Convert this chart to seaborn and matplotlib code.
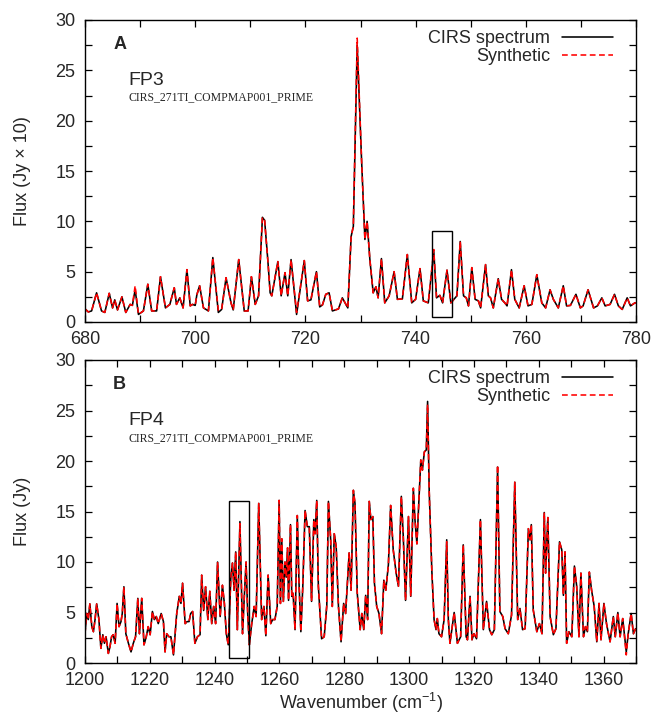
import numpy as np
import pandas as pd
import matplotlib
matplotlib.use("Agg")
import matplotlib.pyplot as plt
import seaborn as sns
from matplotlib.ticker import MultipleLocator
from matplotlib.patches import Rectangle

# ---------------- data ----------------
top_wn = [680.0, 680.6, 681.2, 682.1, 683.0, 683.6, 684.4, 685.0, 685.4, 685.9,
          686.7, 687.4, 688.2, 688.6, 689.1, 689.7, 690.6, 691.4, 692.1, 693.0,
          693.7, 694.6, 695.4, 696.2, 696.6, 697.2, 697.8, 698.5, 699.1, 699.5,
          700.0, 700.3, 700.8, 701.5, 702.4, 703.2, 704.2, 704.8, 705.6, 706.5,
          706.9, 707.9, 708.9, 709.6, 710.2, 710.9, 711.5, 712.2, 712.6, 713.2,
          713.6, 713.9, 715.0, 715.6, 716.3, 716.8, 717.4, 718.4, 719.8, 720.4,
          721.0, 722.0, 722.6, 723.1, 723.7, 724.3, 724.9, 726.0, 726.7, 727.7,
          728.3, 728.7, 729.4, 730.2, 730.8, 731.2, 731.7, 732.3, 732.8, 733.2,
          733.8, 734.4, 735.2, 736.1, 736.7, 737.6, 738.5, 739.3, 740.0, 740.8,
          741.4, 742.3, 743.3, 743.8, 744.4, 744.9, 745.7, 746.4, 747.5, 748.1,
          748.7, 749.2, 749.6, 750.2, 750.8, 751.4, 751.8, 752.7, 753.2, 753.6,
          754.1, 755.0, 755.6, 756.2, 756.6, 757.4, 758.0, 758.8, 759.7, 760.4,
          761.1, 762.0, 762.9, 763.6, 764.4, 765.0, 765.9, 766.8, 767.4, 768.1,
          769.1, 769.9, 770.4, 771.3, 772.3, 773.0, 773.8, 774.4, 775.3, 776.1,
          776.8, 777.5, 778.4, 779.0, 779.8, 780.0]
top_obs = [1.3, 1.0, 1.1, 2.9, 1.1, 0.95, 2.85, 1.4, 2.2, 1.2,
           2.5, 0.95, 1.75, 1.65, 3.2, 0.75, 1.1, 3.75, 1.1, 1.1,
           4.5, 1.4, 1.75, 3.4, 1.75, 2.4, 1.4, 5.2, 1.6, 1.75,
           1.65, 2.7, 3.6, 1.4, 1.1, 6.4, 0.95, 1.25, 4.4, 1.9,
           1.2, 6.2, 1.1, 1.1, 4.5, 1.75, 2.6, 10.4, 10.1, 6.0,
           2.9, 2.6, 6.0, 2.6, 4.9, 2.6, 6.2, 0.75, 6.1, 2.1,
           2.2, 5.0, 1.5, 1.7, 2.75, 2.9, 1.1, 1.3, 2.4, 1.4,
           8.5, 9.5, 27.5, 16.0, 8.2, 10.0, 6.2, 2.9, 3.5, 2.4,
           6.3, 1.9, 2.6, 5.0, 2.25, 2.3, 6.7, 1.9, 2.25, 5.3,
           2.1, 1.9, 7.0, 2.4, 2.65, 1.9, 5.15, 1.9, 2.6, 8.0,
           2.6, 2.4, 1.6, 5.4, 2.25, 2.1, 1.4, 5.7, 2.6, 2.4,
           1.4, 4.3, 2.25, 1.9, 1.6, 5.2, 2.25, 1.4, 3.6, 1.6,
           1.75, 4.7, 1.9, 1.4, 3.2, 2.25, 1.4, 3.6, 1.6, 1.65,
           2.75, 1.4, 1.6, 3.2, 1.4, 1.6, 2.4, 1.6, 1.75, 2.75,
           1.6, 1.25, 2.4, 1.6, 1.9, 1.9]
# synthetic spectrum: equal to the observed one except at these wavenumbers
top_syn_changes = {689.1: 3.6, 729.4: 28.2, 704.2: 1.15, 718.4: 0.95, 743.3: 7.2}

bot_wn = [1200.0, 1200.5, 1201.0, 1201.5, 1202.1, 1202.6, 1203.1, 1203.6, 1204.3, 1204.9,
          1205.5, 1206.0, 1206.5, 1207.2, 1207.7, 1208.2, 1208.7, 1209.3, 1209.9, 1210.5,
          1211.1, 1211.5, 1212.0, 1212.6, 1213.4, 1214.2, 1214.9, 1215.6, 1216.3, 1216.8,
          1217.5, 1218.2, 1218.9, 1219.5, 1220.1, 1220.8, 1221.4, 1222.0, 1222.6, 1223.5,
          1224.2, 1224.7, 1225.2, 1225.9, 1226.5, 1227.3, 1228.3, 1229.1, 1229.6, 1230.1,
          1230.9, 1231.5, 1232.1, 1232.6, 1233.2, 1233.9, 1234.7, 1235.5, 1236.0, 1236.6,
          1237.2, 1237.9, 1238.5, 1239.1, 1239.7, 1240.3, 1240.9, 1241.7, 1242.4, 1243.0,
          1243.6, 1244.2, 1245.0, 1245.5, 1246.0, 1246.5, 1247.0, 1247.8, 1248.6, 1249.2,
          1249.7, 1250.2, 1250.7, 1251.4, 1252.2, 1252.8, 1253.6, 1254.5, 1255.2, 1255.8,
          1256.5, 1257.3, 1257.9, 1258.6, 1259.3, 1259.9, 1260.3, 1260.7, 1261.2, 1261.7,
          1262.1, 1262.5, 1262.8, 1263.4, 1263.8, 1264.2, 1264.8, 1265.5, 1266.0, 1266.6,
          1267.2, 1267.9, 1268.6, 1269.2, 1269.9, 1270.6, 1271.0, 1271.5, 1272.0, 1273.0,
          1273.8, 1274.6, 1275.1, 1275.8, 1276.3, 1276.9, 1277.5, 1278.2, 1279.0, 1279.8,
          1280.4, 1281.5, 1282.1, 1282.8, 1283.3, 1284.0, 1284.9, 1285.4, 1286.0, 1286.6,
          1287.2, 1287.7, 1288.2, 1288.8, 1289.3, 1290.0, 1290.7, 1291.5, 1292.2, 1292.8,
          1293.6, 1294.3, 1295.1, 1296.0, 1296.7, 1297.6, 1298.2, 1298.9, 1299.8, 1300.5,
          1301.3, 1301.8, 1302.4, 1303.1, 1303.6, 1304.1, 1304.7, 1305.3, 1305.7, 1306.2,
          1307.0, 1307.7, 1308.3, 1308.7, 1309.2, 1310.0, 1310.8, 1311.6, 1312.1, 1312.6,
          1313.9, 1314.9, 1315.9, 1316.7, 1317.6, 1318.0, 1318.8, 1319.4, 1320.0, 1320.8,
          1322.0, 1322.9, 1323.9, 1324.8, 1325.5, 1326.3, 1327.3, 1328.0, 1328.9, 1329.6,
          1330.6, 1331.6, 1332.6, 1333.5, 1334.2, 1335.0, 1335.8, 1336.8, 1337.3, 1337.7,
          1338.3, 1339.4, 1340.2, 1341.0, 1341.7, 1342.1, 1342.8, 1343.5, 1344.5, 1345.3,
          1346.4, 1347.1, 1347.6, 1348.1, 1348.6, 1349.3, 1350.2, 1351.0, 1351.7, 1352.4,
          1353.0, 1353.8, 1354.4, 1355.0, 1355.6, 1356.3, 1357.1, 1357.9, 1358.6, 1359.2,
          1360.1, 1360.9, 1362.0, 1363.0, 1363.6, 1364.4, 1365.1, 1365.9, 1367.0, 1367.6,
          1368.5, 1369.2, 1369.9]
bot_obs = [2.9, 4.9, 4.3, 5.85, 3.6, 3.1, 4.3, 5.85, 4.3, 1.45,
           2.8, 1.95, 2.6, 0.95, 1.6, 2.6, 2.8, 1.95, 5.9, 3.6,
           4.1, 4.9, 7.55, 2.9, 1.95, 1.1, 1.95, 2.6, 6.4, 2.9,
           6.4, 1.8, 2.6, 3.6, 2.8, 5.1, 4.3, 4.6, 3.9, 4.9,
           4.1, 1.1, 2.9, 2.6, 2.6, 0.8, 4.9, 6.6, 5.9, 7.9,
           3.9, 4.1, 4.1, 4.9, 5.1, 1.95, 2.6, 2.8, 8.7, 5.2,
           7.55, 4.3, 7.1, 3.9, 5.6, 3.9, 10.0, 4.6, 7.7, 5.9,
           2.9, 1.8, 8.5, 9.9, 7.2, 11.0, 3.3, 14.0, 2.9, 6.9,
           10.0, 4.9, 1.8, 3.8, 5.6, 4.6, 15.8, 4.3, 5.6, 2.7,
           8.7, 3.9, 4.3, 4.3, 5.6, 16.1, 5.9, 12.3, 6.1, 10.0,
           8.5, 11.4, 6.2, 13.7, 6.6, 6.9, 3.3, 14.6, 8.2, 3.1,
           7.6, 15.1, 13.5, 13.5, 6.1, 14.2, 12.8, 16.1, 7.6, 2.4,
           2.6, 5.7, 16.0, 12.2, 5.6, 12.8, 11.5, 5.6, 2.1, 5.9,
           4.9, 10.9, 7.2, 17.1, 15.8, 6.9, 3.3, 4.9, 3.3, 6.7,
           4.3, 16.0, 14.2, 14.5, 7.9, 5.6, 4.9, 2.9, 8.2, 7.2,
           9.7, 15.6, 11.2, 8.9, 7.6, 16.5, 12.5, 6.2, 14.5, 6.6,
           17.3, 14.2, 11.8, 16.6, 20.1, 19.1, 20.9, 21.1, 25.9, 17.0,
           9.2, 4.3, 3.3, 4.4, 2.9, 2.6, 4.3, 12.2, 4.3, 1.95,
           5.0, 1.95, 2.6, 11.7, 2.6, 2.3, 6.6, 2.3, 2.9, 2.4,
           14.2, 3.3, 6.1, 3.3, 2.8, 3.3, 19.4, 5.1, 4.6, 3.4,
           2.9, 4.75, 17.9, 4.3, 5.4, 3.3, 3.4, 13.3, 12.2, 13.7,
           5.25, 3.1, 3.9, 2.9, 14.9, 8.9, 14.4, 4.6, 2.8, 3.4,
           12.0, 11.2, 6.7, 11.0, 1.95, 3.1, 2.6, 9.6, 7.6, 2.6,
           8.9, 2.6, 3.6, 3.1, 9.0, 7.2, 5.6, 2.1, 5.9, 2.3,
           5.9, 3.9, 2.1, 4.6, 2.6, 5.0, 2.6, 4.4, 1.1, 2.9,
           4.9, 2.9, 3.4]
bot_syn_changes = {1305.7: 25.6, 1327.3: 19.6, 1247.8: 13.8, 1367.0: 0.8, 1311.6: 12.0}

top_box = [742.9, 746.6, 0.45, 9.0]      # x0, x1, y0, y1 of the highlight box
bot_box = [1244.4, 1250.6, 0.5, 16.0]
top_xlim = [680, 780]
bot_xlim = [1200, 1370]
y_lim = [0, 30]
panel_letters = ["A", "B"]
fp_labels = ["FP3", "FP4"]
obs_id = "CIRS_271TI_COMPMAP001_PRIME"
y_labels = ["Flux (Jy \u00d7 10)", "Flux (Jy)"]
x_label = "Wavenumber (cm$^{-1}$)"
legend_labels = ["CIRS spectrum", "Synthetic"]

# ---------------- style ----------------
sns.set_theme(style="ticks")
plt.rcParams["font.family"] = ["Liberation Sans", "DejaVu Sans"]
plt.rcParams["mathtext.fontset"] = "custom"
plt.rcParams["mathtext.rm"] = "Liberation Sans"
plt.rcParams["mathtext.it"] = "Liberation Sans:italic"
plt.rcParams["mathtext.bf"] = "Liberation Sans:bold"
plt.rcParams["axes.edgecolor"] = "black"
plt.rcParams["axes.linewidth"] = 1.0

fig = plt.figure(figsize=(6.56, 7.21), dpi=100)
ax1 = fig.add_axes([85 / 656, 1 - 322 / 721, 551 / 656, 302 / 721])
ax2 = fig.add_axes([85 / 656, 1 - 663 / 721, 551 / 656, 303 / 721])


def draw_panel(ax, wn, obs, changes, box, xlim, letter, fp, ylabel):
    syn = [changes.get(w, v) for w, v in zip(wn, obs)]
    df = pd.DataFrame({"wn": wn, "obs": obs, "syn": syn})
    sns.lineplot(data=df, x="wn", y="obs", ax=ax, color="black", linewidth=1.15,
                 estimator=None, sort=False, legend=False)
    sns.lineplot(data=df, x="wn", y="syn", ax=ax, color="#ff0000", linewidth=1.15,
                 estimator=None, sort=False, legend=False, linestyle="--")
    l_obs, l_syn = ax.lines[0], ax.lines[1]
    l_syn.set_dashes((3.6, 2.2))
    ax.add_patch(Rectangle((box[0], box[2]), box[1] - box[0], box[3] - box[2],
                           fill=False, ec="black", lw=1.0, zorder=5))
    ax.set_xlim(*xlim)
    ax.set_ylim(*y_lim)
    ax.xaxis.set_major_locator(MultipleLocator(20))
    ax.xaxis.set_minor_locator(MultipleLocator(10))
    ax.yaxis.set_major_locator(MultipleLocator(5))
    ax.yaxis.set_minor_locator(MultipleLocator(2.5))
    ax.tick_params(which="both", direction="in", top=True, right=True,
                   length=5, width=0.9, color="black")
    ax.tick_params(axis="x", which="major", labelsize=13, pad=6.5)
    ax.tick_params(axis="y", which="major", labelsize=13, pad=7)
    ax.set_xlabel("")
    ax.set_ylabel(ylabel, fontsize=13)
    ax.yaxis.set_label_coords(-0.098, 0.5)
    for s in ax.spines.values():
        s.set_visible(True)
        s.set_color("black")
        s.set_linewidth(1.0)
    ax.text(0.051, 0.92, letter, transform=ax.transAxes, fontsize=13,
            fontweight="bold", ha="left", va="center")
    ax.text(0.079, 0.80, fp, transform=ax.transAxes, fontsize=14,
            ha="left", va="center")
    ax.text(0.079, 0.743, obs_id, transform=ax.transAxes, fontsize=8.5,
            family=["Liberation Serif", "DejaVu Serif"], ha="left", va="center")
    ax.legend([l_obs, l_syn], legend_labels, loc="upper right",
              bbox_to_anchor=(0.958, 0.966), markerfirst=False, frameon=False,
              fontsize=13, handlelength=2.83, handletextpad=0.66,
              labelspacing=0.06, borderaxespad=0, borderpad=0)


draw_panel(ax1, top_wn, top_obs, top_syn_changes, top_box, top_xlim,
           panel_letters[0], fp_labels[0], y_labels[0])
draw_panel(ax2, bot_wn, bot_obs, bot_syn_changes, bot_box, bot_xlim,
           panel_letters[1], fp_labels[1], y_labels[1])
ax2.set_xlabel(x_label, fontsize=13, labelpad=1.5)

fig.savefig("out.png", dpi=100)
